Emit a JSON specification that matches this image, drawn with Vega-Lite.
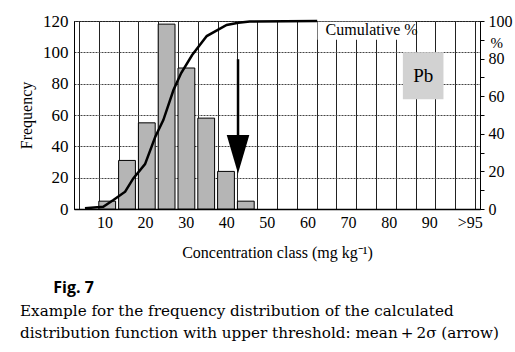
{
  "$schema": "https://vega.github.io/schema/vega-lite/v6.json",
  "width": 406,
  "height": 188,
  "autosize": {"type": "none"},
  "padding": {"left": 74, "top": 21, "right": 35, "bottom": 143},
  "background": "white",
  "datasets": {
    "bars": [
      {"lo": 5, "hi": 10, "freq": 5},
      {"lo": 10, "hi": 15, "freq": 31},
      {"lo": 15, "hi": 20, "freq": 55},
      {"lo": 20, "hi": 25, "freq": 118},
      {"lo": 25, "hi": 30, "freq": 90},
      {"lo": 30, "hi": 35, "freq": 58},
      {"lo": 35, "hi": 40, "freq": 24},
      {"lo": 40, "hi": 45, "freq": 5}
    ],
    "cum": [
      {"x": 2.7, "pct": 0.4},
      {"x": 7.2, "pct": 1.2},
      {"x": 9.7, "pct": 4.8},
      {"x": 12.6, "pct": 9.2},
      {"x": 14.6, "pct": 16.3},
      {"x": 17.5, "pct": 23.9},
      {"x": 20.0, "pct": 38.3},
      {"x": 22.0, "pct": 47.3},
      {"x": 24.5, "pct": 63.3},
      {"x": 26.4, "pct": 72.3},
      {"x": 29.1, "pct": 81.9},
      {"x": 32.7, "pct": 92.0},
      {"x": 37.6, "pct": 97.9},
      {"x": 40.5, "pct": 99.1},
      {"x": 43.3, "pct": 99.7},
      {"x": 59.9, "pct": 100}
    ]
  },
  "title": {
    "text": "\u200b\u00a0\u00a0\u00a0\u00a0\u00a0\u00a0\u00a0\u00a0Fig. 7",
    "subtitle": [
      "Example for the frequency distribution of the calculated",
      "distribution function with upper threshold: mean\u2009+\u20092\u03c3 (arrow)"
    ],
    "orient": "bottom",
    "anchor": "start",
    "frame": "group",
    "dx": -54,
    "offset": 20,
    "font": "Open Sans",
    "fontWeight": "bold",
    "fontSize": 16,
    "color": "black",
    "subtitleFont": "DejaVu Serif",
    "subtitleFontSize": 15.2,
    "subtitleColor": "black",
    "subtitlePadding": 8,
    "subtitleLineHeight": 22
  },
  "resolve": {
    "scale": {"x": "independent", "y": "independent"},
    "axis": {"x": "independent", "y": "independent"}
  },
  "layer": [
    {
      "data": {"name": "bars"},
      "mark": {"type": "bar", "orient": "vertical", "fill": "#b5b5b5", "stroke": "black", "strokeWidth": 1, "x2Offset": -3},
      "encoding": {
        "x": {
          "field": "lo", "type": "quantitative",
          "scale": {"domain": [0, 100], "nice": false, "zero": false},
          "axis": {
            "orient": "top",
            "values": [0, 5, 10, 15, 20, 25, 30, 35, 40, 45, 50, 55, 60, 65, 70, 75, 80, 85, 90, 95, 100],
            "grid": true, "gridColor": "#222", "gridWidth": 1, "gridOpacity": 1,
            "labels": false, "ticks": false, "domain": false, "title": null
          }
        },
        "x2": {"field": "hi"},
        "y": {
          "field": "freq", "type": "quantitative",
          "scale": {"domain": [0, 120], "nice": false},
          "axis": {
            "orient": "left",
            "values": [0, 20, 40, 60, 80, 100, 120],
            "grid": true, "gridColor": "#444", "gridDash": [2, 1], "gridOpacity": 1,
            "ticks": false, "domain": true, "domainColor": "black",
            "labelPadding": 6, "labelFontSize": 17,
            "title": "Frequency", "titlePadding": 8
          }
        }
      }
    },
    {
      "data": {"values": [{}]},
      "mark": {"type": "rect", "fill": "#d2d2d2"},
      "encoding": {
        "x": {"datum": 81, "type": "quantitative", "scale": {"domain": [0, 100], "nice": false, "zero": false}, "axis": null},
        "x2": {"datum": 91},
        "y": {"datum": 70, "type": "quantitative", "scale": {"domain": [0, 120], "nice": false}, "axis": null},
        "y2": {"datum": 100}
      }
    },
    {
      "data": {"values": [{"label": "Pb"}]},
      "mark": {"type": "text", "font": "Liberation Serif", "fontSize": 19, "color": "black", "baseline": "middle", "align": "center"},
      "encoding": {
        "x": {"datum": 86, "type": "quantitative", "scale": {"domain": [0, 100], "nice": false, "zero": false}, "axis": null},
        "y": {"datum": 85, "type": "quantitative", "scale": {"domain": [0, 120], "nice": false}, "axis": null},
        "text": {"field": "label"}
      }
    },
    {
      "data": {"values": [{}]},
      "mark": {"type": "rect", "fill": "white"},
      "encoding": {
        "x": {"datum": 60, "type": "quantitative", "scale": {"domain": [0, 100], "nice": false, "zero": false}, "axis": null},
        "x2": {"datum": 84},
        "y": {"datum": 108, "type": "quantitative", "scale": {"domain": [0, 120], "nice": false}, "axis": null},
        "y2": {"datum": 119.6}
      }
    },
    {
      "data": {"values": [{"label": "Cumulative %"}]},
      "mark": {"type": "text", "font": "Liberation Serif", "fontSize": 16, "color": "black", "baseline": "middle", "align": "center"},
      "encoding": {
        "x": {"datum": 73.3, "type": "quantitative", "scale": {"domain": [0, 100], "nice": false, "zero": false}, "axis": null},
        "y": {"datum": 114.3, "type": "quantitative", "scale": {"domain": [0, 120], "nice": false}, "axis": null},
        "text": {"field": "label"}
      }
    },
    {
      "data": {"name": "cum"},
      "mark": {"type": "line", "color": "black", "strokeWidth": 2.5},
      "encoding": {
        "x": {
          "field": "x", "type": "quantitative",
          "scale": {"domain": [0, 100], "nice": false, "zero": false},
          "axis": {
            "orient": "bottom",
            "values": [7.5, 17.5, 27.5, 37.5, 47.5, 57.5, 67.5, 77.5, 87.5, 97.5],
            "labelExpr": "datum.value > 95 ? '>95' : format(datum.value + 2.5, 'd')",
            "ticks": false, "domain": true, "domainColor": "black", "domainWidth": 1.5, "grid": false,
            "labelPadding": 5,
            "title": "Concentration class (mg kg\u207b\u00b9)", "titlePadding": 14
          }
        },
        "y": {
          "field": "pct", "type": "quantitative",
          "scale": {"domain": [0, 100], "nice": false},
          "axis": {
            "orient": "right",
            "values": [0, 10, 20, 30, 40, 50, 60, 70, 80, 90, 100],
            "labelExpr": "datum.value % 20 == 0 ? datum.value : ''",
            "ticks": true, "tickSize": 4, "tickColor": "black",
            "domain": true, "domainColor": "black", "grid": false,
            "labelPadding": 4,
            "title": "%", "titleAngle": 0, "titleX": 10, "titleY": 21,
            "titleAlign": "left", "titleBaseline": "middle", "titleFontSize": 15
          }
        }
      }
    },
    {
      "data": {"values": [{}]},
      "mark": {"type": "rule", "color": "black", "strokeWidth": 2.5},
      "encoding": {
        "x": {"datum": 40.4, "type": "quantitative", "scale": {"domain": [0, 100], "nice": false, "zero": false}, "axis": null},
        "y": {"datum": 95.6, "type": "quantitative", "scale": {"domain": [0, 120], "nice": false}, "axis": null},
        "y2": {"datum": 45}
      }
    },
    {
      "data": {"values": [{}]},
      "mark": {"type": "point", "shape": "M-1,-1.7L1,-1.7L0,1.7Z", "size": 511, "filled": true, "color": "black", "opacity": 1},
      "encoding": {
        "x": {"datum": 40.4, "type": "quantitative", "scale": {"domain": [0, 100], "nice": false, "zero": false}, "axis": null},
        "y": {"datum": 35, "type": "quantitative", "scale": {"domain": [0, 120], "nice": false}, "axis": null}
      }
    }
  ],
  "config": {
    "view": {"stroke": "black", "strokeWidth": 1},
    "axis": {
      "labelFont": "Liberation Serif", "labelFontSize": 16, "labelColor": "black",
      "titleFont": "Liberation Serif", "titleFontSize": 16, "titleFontWeight": "normal", "titleColor": "black"
    }
  }
}
